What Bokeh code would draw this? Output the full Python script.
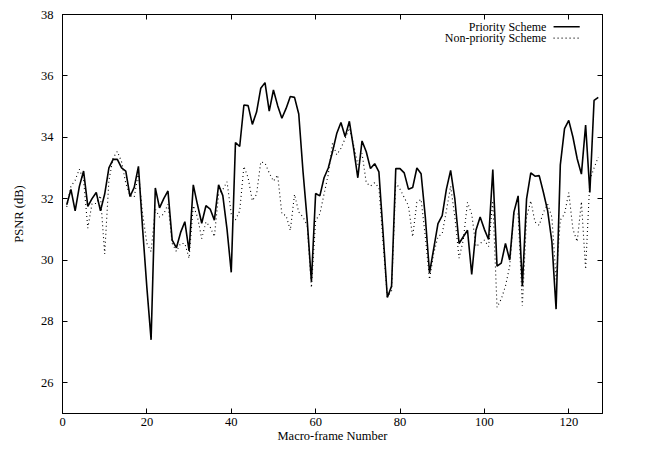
from bokeh.plotting import figure
from bokeh.models import LinearAxis, FixedTicker, Range1d, Label, ColumnDataSource
from bokeh.embed import file_html
from bokeh.resources import INLINE

frames = list(range(1, 128))
priority = [
    31.8, 32.3, 31.6, 32.4, 32.9, 31.75, 32.0, 32.2, 31.6, 32.15,
    33.0, 33.28, 33.28, 33.0, 32.9, 32.07, 32.37, 33.05, 31.0, 29.1,
    27.4, 32.35, 31.7, 32.0, 32.25, 30.65, 30.4, 30.9, 31.25, 30.3,
    32.45, 31.8, 31.2, 31.77, 31.66, 31.3, 32.45, 32.1, 31.0, 29.6,
    33.83, 33.7, 35.05, 35.03, 34.42, 34.82, 35.6, 35.78, 34.85, 35.54,
    35.03, 34.62, 34.94, 35.33, 35.3, 34.76, 32.9, 31.3, 29.3, 32.17,
    32.09, 32.68, 33.0, 33.53, 34.12, 34.48, 34.02, 34.52, 33.64, 32.68,
    33.88, 33.53, 32.98, 33.14, 32.87, 30.86, 28.78, 29.15, 32.98, 32.98,
    32.84, 32.31, 32.36, 33.0, 32.81, 31.4, 29.58, 30.38, 31.19, 31.45,
    32.31, 32.92, 31.99, 30.54, 30.76, 30.97, 29.53, 30.97, 31.4, 31.0,
    30.67, 32.95, 29.8, 29.9, 30.54, 30.0, 31.56, 32.09, 29.15, 31.99,
    32.84, 32.73, 32.75, 32.2, 31.6, 30.6, 28.4, 33.1, 34.28, 34.55,
    34.0, 33.3, 32.8, 34.4, 32.2, 35.2, 35.3,
]
non_priority = [
    31.73, 32.4, 32.6, 32.96, 32.6, 31.04, 31.84, 31.84, 32.1, 30.2,
    32.6, 33.33, 33.54, 33.2, 32.5, 32.1, 32.05, 32.85, 31.5, 30.54,
    30.28, 31.66, 31.4, 31.5, 31.82, 30.54, 30.28, 30.54, 30.54, 30.06,
    31.77, 31.4, 30.7, 31.24, 31.08, 30.76, 32.14, 32.3, 32.55, 31.5,
    31.31, 31.6, 33.05, 32.68, 31.93, 32.14, 33.2, 33.16, 32.84, 32.57,
    32.77, 31.5, 31.45, 30.97, 32.14, 31.56, 31.4, 31.13, 29.1, 31.29,
    31.5, 32.15, 32.79, 33.8, 33.43, 33.64, 33.96, 34.3, 33.75, 33.11,
    33.48, 32.52, 32.41, 32.52, 32.36, 30.54, 28.8, 29.0, 32.52, 32.31,
    32.04, 31.77, 30.76, 31.88, 31.98, 30.76, 29.37, 30.22, 30.76, 30.86,
    31.61, 32.41, 31.4, 30.06, 30.65, 31.88, 31.5, 30.44, 30.54, 30.65,
    30.44, 31.93, 28.46, 28.73, 29.15, 29.8, 31.5, 31.5, 28.51, 31.4,
    31.93, 31.24, 31.13, 31.56, 31.82, 31.4, 29.37, 31.3, 31.5, 32.2,
    31.0, 30.6, 31.9, 29.7, 32.6, 33.0, 33.35,
]
x_ticks = [0, 20, 40, 60, 80, 100, 120]
y_ticks = [26, 28, 30, 32, 34, 36, 38]
series_names = ["Priority Scheme", "Non-priority Scheme"]
x_label = "Macro-frame Number"
y_label = "PSNR (dB)"

FONT = "Liberation Serif"
FS = "12.5px"

p = figure(width=610, height=445, output_backend="svg", toolbar_location=None,
           x_range=Range1d(0, 128), y_range=Range1d(25, 38),
           min_border_left=62, min_border_top=14, min_border_right=8,
           min_border_bottom=32,
           x_axis_label=x_label, y_axis_label=y_label)
p.background_fill_color = "white"
p.border_fill_color = "white"
p.grid.visible = False
p.outline_line_color = "black"
p.outline_line_width = 1
p.outline_line_alpha = 1

p.xaxis.ticker = FixedTicker(ticks=x_ticks)
p.yaxis.ticker = FixedTicker(ticks=y_ticks)
for ax in (p.xaxis[0], p.yaxis[0]):
    ax.major_tick_in = 5
    ax.major_tick_out = 0
    ax.minor_tick_in = 0
    ax.minor_tick_out = 0
    ax.axis_line_color = "black"
    ax.major_tick_line_color = "black"
    ax.major_label_text_font = FONT
    ax.major_label_text_font_size = FS
    ax.major_label_text_color = "black"
    ax.axis_label_text_font = FONT
    ax.axis_label_text_font_size = FS
    ax.axis_label_text_font_style = "normal"
    ax.axis_label_text_color = "black"
p.xaxis.major_label_standoff = 4
p.xaxis.axis_label_standoff = 0
p.yaxis.major_label_standoff = 9
p.yaxis.axis_label_standoff = 12

for side, ticks in (("above", x_ticks), ("right", y_ticks)):
    ax = LinearAxis(ticker=FixedTicker(ticks=ticks),
                    major_label_overrides={t: "" for t in ticks},
                    major_label_text_font_size="0px", major_label_standoff=0,
                    major_tick_in=5, major_tick_out=0,
                    minor_tick_in=0, minor_tick_out=0,
                    axis_line_color="black")
    p.add_layout(ax, side)

src = ColumnDataSource(dict(x=frames, a=priority, b=non_priority))
p.line("x", "a", source=src, line_color="black", line_width=1.6)
p.line("x", "b", source=src, line_color="black", line_width=1.1, line_dash="1 3")

# key (gnuplot style: text then sample)
key_x_text = 114.7
key_rows = [37.6, 37.23]
for name, yy, dash, lw in zip(series_names, key_rows, ["solid", "1 3"], [1.6, 1.1]):
    p.add_layout(Label(x=key_x_text, y=yy, text=name, text_align="right",
                       text_baseline="middle", text_font=FONT,
                       text_font_size="12px", text_color="black"))
    p.segment(x0=[116.4], y0=[yy], x1=[122.6], y1=[yy], line_color="black",
              line_width=lw, line_dash=dash)

open("out.html", "w").write(file_html(p, INLINE))
